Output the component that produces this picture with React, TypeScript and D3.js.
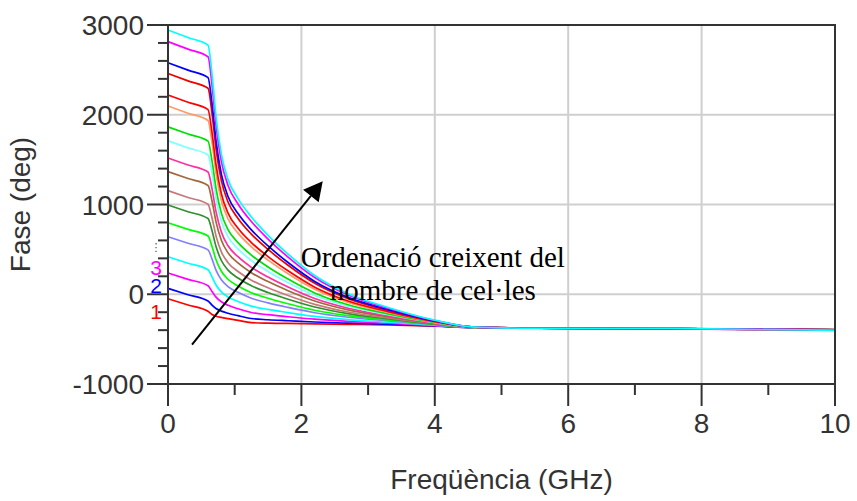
import React from "react";
import * as d3 from "d3";

// Frequency samples (GHz) shared by every trace
const freqs = [0, 0.3, 0.6, 0.66, 0.72, 0.8, 0.9, 1.05, 1.25, 1.5, 1.8, 2.2, 2.7, 3.3, 4.0, 4.6, 5.5, 7.5, 10];

// Unwrapped transmission phase (deg), one trace per number of cells
const phaseCells01 = [-50, -120, -190, -225, -245, -258, -272, -292, -316, -322, -325, -330, -335, -342, -355, -372, -378, -384, -398];
const phaseCells02 = [66, -5, -75, -121, -159, -188, -212, -239, -270, -284, -295, -309, -322, -334, -352, -372, -377, -383, -396];
const phaseCells03 = [237, 166, 94, 31, -32, -84, -123, -162, -203, -228, -251, -278, -302, -323, -349, -371, -378, -385, -400];
const phaseCells04 = [418, 346, 273, 193, 103, 26, -30, -80, -132, -169, -204, -246, -282, -312, -345, -371, -376, -382, -394];
const phaseCells05 = [641, 568, 494, 392, 268, 161, 86, 21, -44, -96, -147, -206, -256, -297, -340, -371, -378, -384, -397];
const phaseCells06 = [797, 723, 649, 531, 384, 256, 167, 92, 17, -45, -106, -178, -238, -287, -336, -370, -377, -383, -399];
const phaseCells07 = [994, 919, 844, 707, 531, 376, 269, 181, 94, 19, -56, -142, -216, -274, -332, -370, -378, -385, -396];
const phaseCells08 = [1154, 1078, 1002, 850, 650, 473, 352, 253, 157, 72, -14, -113, -198, -264, -329, -370, -377, -382, -398];
const phaseCells09 = [1366, 1289, 1212, 1039, 807, 602, 461, 349, 240, 141, 40, -75, -174, -250, -324, -369, -378, -384, -395];
const phaseCells10 = [1518, 1440, 1362, 1175, 920, 694, 540, 418, 300, 191, 80, -48, -156, -240, -321, -369, -376, -383, -400];
const phaseCells11 = [1710, 1631, 1552, 1347, 1063, 810, 640, 505, 376, 254, 129, -13, -134, -228, -316, -368, -378, -385, -397];
const phaseCells12 = [1865, 1785, 1706, 1485, 1178, 904, 720, 575, 437, 304, 169, 15, -117, -218, -313, -368, -377, -382, -396];
const phaseCells13 = [2097, 2016, 1936, 1692, 1350, 1045, 840, 681, 528, 380, 229, 56, -90, -202, -308, -368, -378, -384, -399];
const phaseCells14 = [2220, 2139, 2057, 1802, 1442, 1120, 904, 736, 576, 420, 261, 79, -76, -194, -305, -367, -376, -383, -395];
const phaseCells15 = [2460, 2377, 2295, 2016, 1620, 1266, 1028, 845, 670, 499, 323, 122, -49, -179, -300, -367, -378, -385, -398];
const phaseCells16 = [2580, 2497, 2414, 2124, 1709, 1338, 1090, 899, 718, 538, 354, 143, -35, -171, -297, -367, -377, -382, -397];
const phaseCells17 = [2815, 2731, 2646, 2333, 1884, 1481, 1212, 1006, 810, 615, 414, 186, -8, -156, -292, -366, -378, -384, -396];
const phaseCells18 = [2945, 2860, 2775, 2450, 1980, 1560, 1280, 1065, 861, 657, 448, 209, 6, -147, -289, -366, -379, -381, -402];

const traces = [
  phaseCells01, phaseCells02, phaseCells03, phaseCells04, phaseCells05, phaseCells06,
  phaseCells07, phaseCells08, phaseCells09, phaseCells10, phaseCells11, phaseCells12,
  phaseCells13, phaseCells14, phaseCells15, phaseCells16, phaseCells17, phaseCells18,
];

const traceColors = [
  "#ff0000", "#0000ff", "#ff00ff", "#00ffff", "#8080ff", "#00ff00",
  "#2f8f2f", "#c87878", "#a0683c", "#ff2fa0", "#80ffff", "#00e000",
  "#ff9966", "#ff0000", "#ee0000", "#0000ff", "#ff00ff", "#00ffff",
];

const xMajorTicks = [0, 2, 4, 6, 8, 10];
const xMinorTicks = [1, 3, 5, 7, 9];
const yMajorTicks = [-1000, 0, 1000, 2000, 3000];
const xGrid = [2, 4, 6, 8];
const yGrid = [0, 1000, 2000];

// Curve labels next to the phase axis
const cellLabels = ["1", "2", "3"];
const cellLabelColors = ["#ff0000", "#0000ff", "#ff00ff"];
const cellLabelBaselines = [-276, 14, 214];

const noteLines = ["Ordenació creixent del", "nombre de cel·les"];

const W = 857;
const H = 501;
const AXIS = "#333333";
const SANS = "'Liberation Sans', Arial, sans-serif";

export default function App() {
  const x = d3.scaleLinear().domain([0, 10]).range([168, 835]);
  const y = d3.scaleLinear().domain([-1000, 3000]).range([384, 25]);

  const line = d3
    .line<number>()
    .x((_, i) => x(freqs[i]))
    .y((d) => y(d))
    .curve(d3.curveMonotoneX);

  const yMinorTicks = d3.range(-1000, 3001, 200).filter((v) => v % 1000 !== 0);

  // Arrow from (0.36 GHz, -560 deg) towards (2.32 GHz, 1260 deg)
  const ax0 = x(0.36), ay0 = y(-560);
  const ax1 = x(2.32), ay1 = y(1260);
  const dx = ax1 - ax0, dy = ay1 - ay0;
  const len = Math.hypot(dx, dy);
  const ux = dx / len, uy = dy / len;
  const headLen = 19, headHalf = 10;
  const bx = ax1 - ux * headLen, by = ay1 - uy * headLen;
  const head = [
    [ax1, ay1],
    [bx - uy * headHalf, by + ux * headHalf],
    [bx + uy * headHalf, by - ux * headHalf],
  ];

  return (
    <svg
      width={W}
      height={H}
      style={{ position: "absolute", left: 0, top: 0, background: "#ffffff" }}
    >
      <rect x={0} y={0} width={W} height={H} fill="#ffffff" />

      {/* grid */}
      {xGrid.map((v) => (
        <line key={"gx" + v} x1={x(v)} x2={x(v)} y1={y(3000)} y2={y(-1000)} stroke="#cfcfcf" strokeWidth={2} />
      ))}
      {yGrid.map((v) => (
        <line key={"gy" + v} x1={x(0)} x2={x(10)} y1={y(v)} y2={y(v)} stroke="#cfcfcf" strokeWidth={2} />
      ))}

      {/* traces */}
      {traces.map((t, i) => (
        <path key={"t" + i} d={line(t) || ""} fill="none" stroke={traceColors[i]} strokeWidth={1.7} />
      ))}

      {/* frame */}
      <rect x={x(0)} y={y(3000)} width={x(10) - x(0)} height={y(-1000) - y(3000)} fill="none" stroke={AXIS} strokeWidth={2} />

      {/* y ticks */}
      {yMajorTicks.map((v) => (
        <g key={"ym" + v}>
          <line x1={x(0) - 21} x2={x(0)} y1={y(v)} y2={y(v)} stroke={AXIS} strokeWidth={2} />
          <text x={x(0) - 24} y={y(v) + 10} textAnchor="end" fontFamily={SANS} fontSize={28} fill={AXIS}>
            {v}
          </text>
        </g>
      ))}
      {yMinorTicks.map((v) => (
        <line key={"yn" + v} x1={x(0) - 10} x2={x(0)} y1={y(v)} y2={y(v)} stroke={AXIS} strokeWidth={2} />
      ))}

      {/* x ticks */}
      {xMajorTicks.map((v) => (
        <g key={"xm" + v}>
          <line x1={x(v)} x2={x(v)} y1={y(-1000)} y2={y(-1000) + 22} stroke={AXIS} strokeWidth={2} />
          <text x={x(v)} y={433} textAnchor="middle" fontFamily={SANS} fontSize={28} fill={AXIS}>
            {v}
          </text>
        </g>
      ))}
      {xMinorTicks.map((v) => (
        <line key={"xn" + v} x1={x(v)} x2={x(v)} y1={y(-1000)} y2={y(-1000) + 11} stroke={AXIS} strokeWidth={2} />
      ))}

      {/* axis titles */}
      <text x={(x(0) + x(10)) / 2} y={489} textAnchor="middle" fontFamily={SANS} fontSize={28} fill={AXIS}>
        Freqüència (GHz)
      </text>
      <text
        transform={`translate(30, ${(y(3000) + y(-1000)) / 2}) rotate(-90)`}
        textAnchor="middle"
        fontFamily={SANS}
        fontSize={28}
        fill={AXIS}
      >
        Fase (deg)
      </text>

      {/* curve labels */}
      {cellLabels.map((s, i) => (
        <text key={"cl" + s} x={x(0) - 12} y={y(cellLabelBaselines[i])} textAnchor="middle" fontFamily={SANS} fontSize={21} fill={cellLabelColors[i]}>
          {s}
        </text>
      ))}
      <text x={x(0) - 12} y={y(480)} textAnchor="middle" fontFamily="'DejaVu Sans', sans-serif" fontSize={11} fill="#555555">
        ⋮
      </text>

      {/* annotation */}
      <line x1={ax0} y1={ay0} x2={bx} y2={by} stroke="#000000" strokeWidth={2} />
      <polygon points={head.map((p) => p.join(",")).join(" ")} fill="#000000" />
      {noteLines.map((s, i) => (
        <text
          key={"n" + i}
          x={x(3.97)}
          y={y(i === 0 ? 304 : -64)}
          textAnchor="middle"
          fontFamily="'Liberation Serif', 'Times New Roman', serif"
          fontSize={29}
          fill="#000000"
        >
          {s}
        </text>
      ))}
    </svg>
  );
}
